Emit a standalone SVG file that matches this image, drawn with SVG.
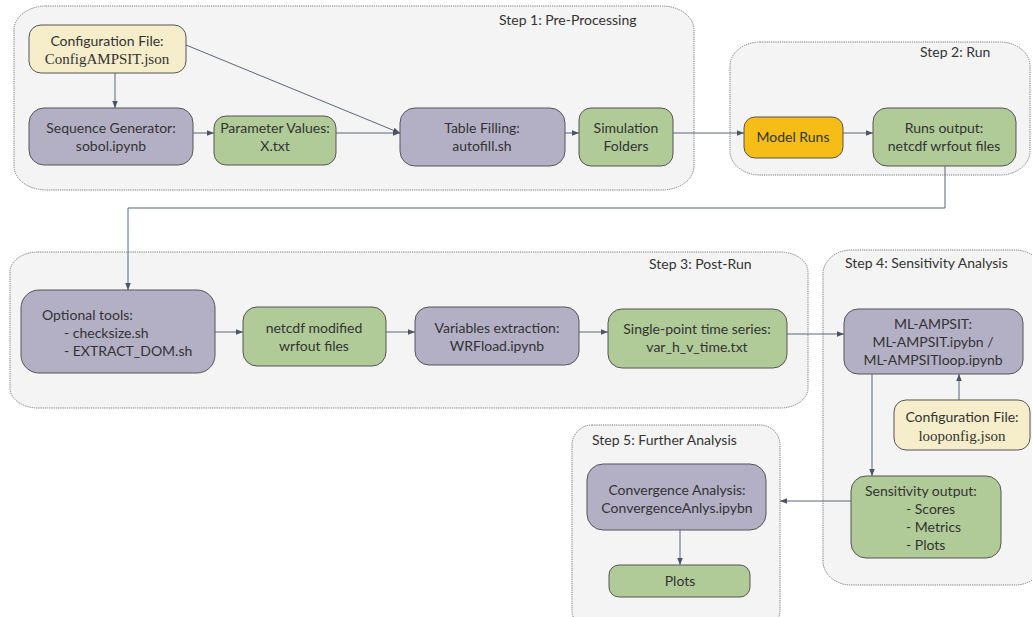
<svg xmlns="http://www.w3.org/2000/svg" width="1032" height="617" viewBox="0 0 1032 617">
<defs>
<marker id="arr" viewBox="0 0 10 10" refX="10" refY="5" markerWidth="7" markerHeight="7" markerUnits="userSpaceOnUse" orient="auto">
<path d="M0,1 L10,5 L0,9 z" fill="#4a5566"/>
</marker>
<style>
.grp{fill:#f4f4f4;stroke:#777;stroke-width:1;stroke-dasharray:1.2 1}
.nd{stroke:#555;stroke-width:1}
.pu{fill:#b3b0c6}
.gr{fill:#b0cb98}
.ye{fill:#f6edca}
.or{fill:#f5bd15}
text{font-family:Lato,"Open Sans","Liberation Sans",sans-serif;font-size:14px;fill:#333}
.c{text-anchor:middle}
.serif{font-family:"Liberation Serif","DejaVu Serif",serif;font-size:15px}
.lbl{font-size:14px}
.cn{fill:none;stroke:#5b6677;stroke-width:1}
</style>
</defs>

<g id="step1">
<rect class="grp" x="14" y="6" width="680" height="184" rx="32" ry="24"/>
<text class="lbl" x="499" y="25">Step 1: Pre-Processing</text>
</g>
<g id="step2">
<rect class="grp" x="730" y="42" width="300" height="133" rx="30" ry="24"/>
<text class="lbl" x="920" y="57">Step 2: Run</text>
</g>
<g id="step3">
<rect class="grp" x="10" y="252" width="798" height="156" rx="28" ry="20"/>
<text class="lbl" x="649" y="269">Step 3: Post-Run</text>
</g>
<g id="step4">
<rect class="grp" x="823" y="250" width="220" height="335" rx="28" ry="24"/>
<text class="lbl" x="845" y="268">Step 4: Sensitivity Analysis</text>
</g>
<g id="step5">
<rect class="grp" x="572" y="425" width="208" height="205" rx="20" ry="20"/>
<text class="lbl" x="592" y="445">Step 5: Further Analysis</text>
</g>

<g id="connectors">
<line class="cn" x1="115" y1="73" x2="115" y2="108" marker-end="url(#arr)"/>
<line class="cn" x1="186" y1="45" x2="400" y2="133" marker-end="url(#arr)"/>
<line class="cn" x1="193" y1="133" x2="214" y2="133" marker-end="url(#arr)"/>
<line class="cn" x1="336" y1="133" x2="400" y2="133" marker-end="url(#arr)"/>
<line class="cn" x1="565" y1="133" x2="579" y2="133" marker-end="url(#arr)"/>
<line class="cn" x1="673" y1="133" x2="744" y2="133" marker-end="url(#arr)"/>
<line class="cn" x1="843" y1="133" x2="873" y2="133" marker-end="url(#arr)"/>
<path class="cn" d="M945,166 V208 H128 V290" marker-end="url(#arr)"/>
<line class="cn" x1="215" y1="332" x2="243" y2="332" marker-end="url(#arr)"/>
<line class="cn" x1="386" y1="332" x2="415" y2="332" marker-end="url(#arr)"/>
<line class="cn" x1="579" y1="332" x2="608" y2="332" marker-end="url(#arr)"/>
<line class="cn" x1="787" y1="334" x2="844" y2="334" marker-end="url(#arr)"/>
<line class="cn" x1="959" y1="400" x2="959" y2="374" marker-end="url(#arr)"/>
<line class="cn" x1="872" y1="374" x2="872" y2="476" marker-end="url(#arr)"/>
<line class="cn" x1="851" y1="501" x2="780" y2="501" marker-end="url(#arr)"/>
<line class="cn" x1="680" y1="530" x2="680" y2="565" marker-end="url(#arr)"/>
</g>

<g id="config1">
<rect class="nd ye" x="29" y="25" width="157" height="48" rx="12" ry="12"/>
<text class="c" x="107" y="46">Configuration File:</text>
<text class="c serif" x="107" y="64">ConfigAMPSIT.json</text>
</g>
<g id="seqgen">
<rect class="nd pu" x="29" y="108" width="164" height="57" rx="15" ry="15"/>
<text class="c" x="111" y="133">Sequence Generator:</text>
<text class="c" x="111" y="151">sobol.ipynb</text>
</g>
<g id="params">
<rect class="nd gr" x="214" y="116" width="122" height="49" rx="12" ry="12"/>
<text class="c" x="275" y="133">Parameter Values:</text>
<text class="c" x="275" y="151">X.txt</text>
</g>
<g id="tablefill">
<rect class="nd pu" x="400" y="108" width="165" height="58" rx="15" ry="15"/>
<text class="c" x="482" y="133">Table Filling:</text>
<text class="c" x="482" y="151">autofill.sh</text>
</g>
<g id="simfolders">
<rect class="nd gr" x="579" y="108" width="94" height="58" rx="12" ry="12"/>
<text class="c" x="626" y="133">Simulation</text>
<text class="c" x="626" y="151">Folders</text>
</g>
<g id="modelruns">
<rect class="nd or" x="744" y="117" width="99" height="41" rx="11" ry="11"/>
<text class="c" x="793" y="142">Model Runs</text>
</g>
<g id="runsout">
<rect class="nd gr" x="873" y="108" width="143" height="58" rx="14" ry="14"/>
<text class="c" x="944" y="133">Runs output:</text>
<text class="c" x="944" y="151">netcdf wrfout files</text>
</g>
<g id="optional">
<rect class="nd pu" x="21" y="290" width="194" height="83" rx="18" ry="18"/>
<text x="42" y="320">Optional tools:</text>
<text x="64" y="338">- checksize.sh</text>
<text x="64" y="356">- EXTRACT_DOM.sh</text>
</g>
<g id="netcdfmod">
<rect class="nd gr" x="243" y="307" width="143" height="59" rx="14" ry="14"/>
<text class="c" x="314" y="333">netcdf modified</text>
<text class="c" x="314" y="351">wrfout files</text>
</g>
<g id="varextract">
<rect class="nd pu" x="415" y="307" width="164" height="58" rx="14" ry="14"/>
<text class="c" x="497" y="333">Variables extraction:</text>
<text class="c" x="497" y="351">WRFload.ipynb</text>
</g>
<g id="singlepoint">
<rect class="nd gr" x="608" y="309" width="179" height="59" rx="14" ry="14"/>
<text class="c" x="697" y="334">Single-point time series:</text>
<text class="c" x="697" y="352">var_h_v_time.txt</text>
</g>
<g id="mlampsit">
<rect class="nd pu" x="844" y="309" width="179" height="65" rx="14" ry="14"/>
<text class="c" x="933" y="329">ML-AMPSIT:</text>
<text class="c" x="933" y="347">ML-AMPSIT.ipybn /</text>
<text class="c" x="933" y="365">ML-AMPSITloop.ipynb</text>
</g>
<g id="config2">
<rect class="nd ye" x="894" y="400" width="136" height="50" rx="12" ry="12"/>
<text class="c" x="962" y="422">Configuration File:</text>
<text class="c serif" x="962" y="441">looponfig.json</text>
</g>
<g id="sensout">
<rect class="nd gr" x="851" y="476" width="150" height="82" rx="15" ry="15"/>
<text x="865" y="496">Sensitivity output:</text>
<text x="906" y="514">- Scores</text>
<text x="906" y="532">- Metrics</text>
<text x="906" y="550">- Plots</text>
</g>
<g id="convergence">
<rect class="nd pu" x="587" y="464" width="179" height="66" rx="16" ry="16"/>
<text class="c" x="677" y="495">Convergence Analysis:</text>
<text class="c" x="677" y="513">ConvergenceAnlys.ipybn</text>
</g>
<g id="plots">
<rect class="nd gr" x="609" y="565" width="141" height="32" rx="10" ry="10"/>
<text class="c" x="680" y="586">Plots</text>
</g>
</svg>
